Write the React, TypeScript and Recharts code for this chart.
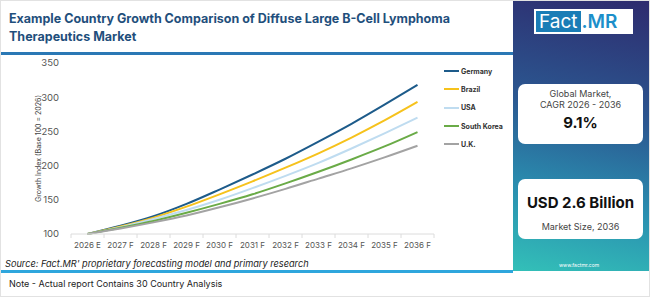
import { Line, LineChart, XAxis, YAxis } from "recharts";

const years = ["2026 E", "2027 F", "2028 F", "2029 F", "2030 F", "2031 F", "2032 F", "2033 F", "2034 F", "2035 F", "2036 F"];

const germany = [100, 112, 126, 144, 165, 187, 210, 235, 261, 289, 318];
const brazil = [100, 111, 124, 140, 158, 177, 197, 218, 241, 266, 293];
const usa = [100, 110, 122, 135, 150, 167, 185, 204, 225, 247, 270];
const southKorea = [100, 109, 119, 131, 144, 158, 174, 191, 209, 228, 249];
const uk = [100, 108, 117, 127, 139, 152, 166, 181, 196, 212, 229];

const yTicks = [100, 150, 200, 250, 300, 350];

const series = [
	{ name: "Germany", color: "#1d5b8a", values: germany },
	{ name: "Brazil", color: "#f6c21c", values: brazil },
	{ name: "USA", color: "#bfdcf0", values: usa },
	{ name: "South Korea", color: "#6aab47", values: southKorea },
	{ name: "U.K.", color: "#a3a3a3", values: uk },
];

const data = years.map((year, i) => {
	const row: Record<string, string | number> = { year };
	series.forEach((s) => {
		row[s.name] = s.values[i];
	});
	return row;
});

const FONT = "Inter, 'Open Sans', sans-serif";
const HALF_STEP = 16.5;

function YearTick(props: any) {
	const { x, y, payload, index, visibleTicksCount } = props;
	const axisY = y - 8;
	const isLast = index === visibleTicksCount - 1;
	return (
		<g>
			<line x1={x - HALF_STEP} x2={x - HALF_STEP} y1={axisY} y2={axisY + 4} stroke="#dcdcdc" />
			{isLast && <line x1={x + HALF_STEP} x2={x + HALF_STEP} y1={axisY} y2={axisY + 4} stroke="#dcdcdc" />}
			<text x={x} y={y} dy="0.71em" textAnchor="middle" fontSize={8} fill="#555" fontFamily={FONT}>
				{payload.value}
			</text>
		</g>
	);
}

function YLabel(props: any) {
	const { viewBox } = props;
	const cx = 37;
	const cy = viewBox.y + viewBox.height / 2;
	return (
		<text
			x={cx}
			y={cy}
			transform={`rotate(-90, ${cx}, ${cy})`}
			textAnchor="middle"
			dominantBaseline="central"
			fontSize={7}
			fill="#444"
			fontFamily={FONT}
		>
			Growth Index (Base 100 = 2026)
		</text>
	);
}

export default function App() {
	return (
		<div
			style={{
				position: "absolute",
				left: 0,
				top: 0,
				width: 650,
				height: 297,
				background: "#fff",
				fontFamily: FONT,
				overflow: "hidden",
				boxSizing: "border-box",
				border: "1px solid #e2e2e2",
			}}
		>
			{/* title */}
			<div
				style={{
					position: "absolute",
					left: 8,
					top: 9,
					width: 490,
					fontSize: 12.5,
					fontWeight: 700,
					lineHeight: "18px",
					color: "#1f4f7c",
				}}
			>
				Example Country Growth Comparison of Diffuse Large B-Cell Lymphoma Therapeutics Market
			</div>
			<div style={{ position: "absolute", left: 0, top: 51, width: 512, height: 3, background: "#2a78b5" }} />

			<div style={{ position: "absolute", left: 0, top: 50 }}>
				<LineChart width={450} height={210} data={data} margin={{ top: 12, right: 17, bottom: 7, left: 30 }}>
					<XAxis
						dataKey="year"
						padding={{ left: HALF_STEP, right: HALF_STEP }}
						tickLine={false}
						tickSize={0}
						tickMargin={8}
						height={20}
						axisLine={{ stroke: "#dcdcdc" }}
						tick={<YearTick />}
						interval={0}
					/>
					<YAxis
						domain={[100, 350]}
						ticks={yTicks}
						width={40}
						axisLine={false}
						tickLine={false}
						tickSize={0}
						tickMargin={12}
						tick={{ fontSize: 9.5, fill: "#555", fontFamily: FONT }}
						label={<YLabel />}
					/>
					{series.map((s) => (
						<Line
							key={s.name}
							type="monotone"
							dataKey={s.name}
							stroke={s.color}
							strokeWidth={2}
							dot={false}
							isAnimationActive={false}
						/>
					))}
				</LineChart>
			</div>

			{/* legend */}
			<div style={{ position: "absolute", left: 443, top: 61 }}>
				{series.map((s) => (
					<div key={s.name} style={{ display: "flex", alignItems: "center", height: 18.3 }}>
						<div style={{ width: 15, height: 2, background: s.color, marginRight: 2 }} />
						<span style={{ fontSize: 7, fontWeight: 700, color: "#333" }}>{s.name}</span>
					</div>
				))}
			</div>

			{/* source + bottom rule */}
			<div style={{ position: "absolute", left: 4, top: 257, fontSize: 9.2, fontStyle: "italic", color: "#222" }}>
				Source: Fact.MR' proprietary forecasting model and primary research
			</div>
			<div style={{ position: "absolute", left: 0, top: 269, width: 512, height: 3, background: "#2fa6dd" }} />
			<div style={{ position: "absolute", left: 8, top: 277, fontSize: 9, color: "#222" }}>
				Note - Actual report Contains 30 Country Analysis
			</div>

			{/* side panel */}
			<div
				style={{
					position: "absolute",
					left: 512,
					top: 0,
					width: 138,
					height: 270,
					background: "linear-gradient(12deg, #33c0b8 0%, #2a8fb0 28%, #2b5891 58%, #2e2b6e 100%)",
				}}
			>
				<div
					style={{
						position: "absolute",
						left: 21,
						top: 8,
						width: 99,
						height: 25,
						background: "#fff",
						display: "flex",
						alignItems: "center",
						padding: 2,
						boxSizing: "border-box",
					}}
				>
					<div
						style={{
							background: "#1a7db6",
							color: "#fff",
							fontSize: 19,
							height: 21,
							lineHeight: "21px",
							padding: "0 3px",
						}}
					>
						Fact
					</div>
					<div style={{ color: "#1c8fca", fontSize: 19, fontWeight: 600, lineHeight: "21px", marginLeft: 1 }}>.MR</div>
				</div>

				<div
					style={{
						position: "absolute",
						left: 5,
						top: 83,
						width: 125,
						height: 60,
						background: "#fff",
						borderRadius: 7,
						textAlign: "center",
					}}
				>
					<div style={{ fontSize: 9, color: "#444", marginTop: 4, lineHeight: "11px" }}>Global Market,</div>
					<div style={{ fontSize: 9, color: "#444", lineHeight: "11px" }}>CAGR 2026 - 2036</div>
					<div style={{ fontSize: 15, fontWeight: 700, color: "#111", marginTop: 3 }}>9.1%</div>
				</div>

				<div
					style={{
						position: "absolute",
						left: 5,
						top: 178,
						width: 125,
						height: 60,
						background: "#fff",
						borderRadius: 7,
						textAlign: "center",
					}}
				>
					<div style={{ fontSize: 15, fontWeight: 700, color: "#111", marginTop: 14 }}>USD 2.6 Billion</div>
					<div style={{ fontSize: 9, color: "#444", marginTop: 9 }}>Market Size, 2036</div>
				</div>

				<div style={{ position: "absolute", left: 46, top: 261, fontSize: 5, color: "#fff" }}>www.factmr.com</div>
			</div>
		</div>
	);
}
